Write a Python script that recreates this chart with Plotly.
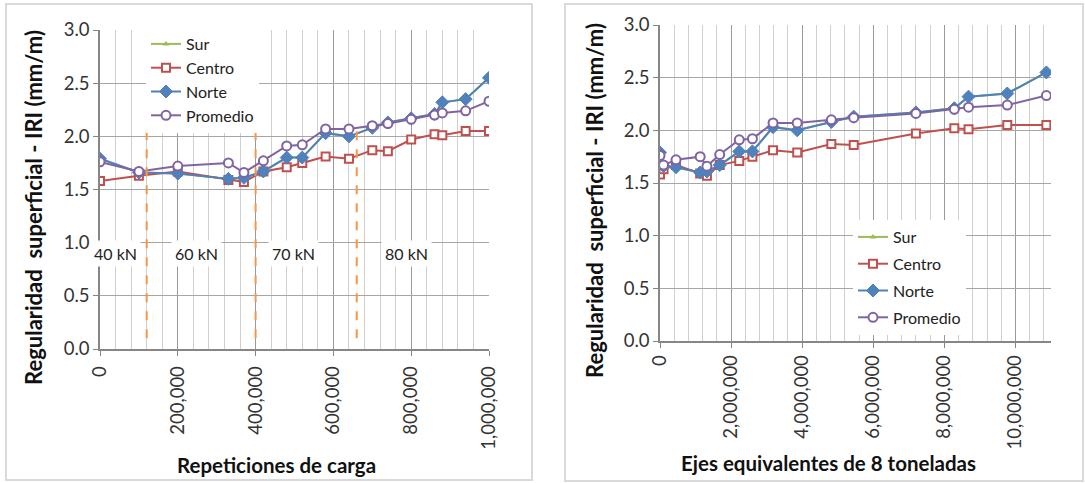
import plotly.graph_objects as go

W, H = 1085, 483

# ---------------- data ----------------
repeticiones = [0, 100000, 200000, 330000, 370000, 420000, 480000, 520000, 580000,
                640000, 700000, 740000, 800000, 860000, 880000, 940000, 1000000]
ejes_eq = [0, 100000, 450000, 1130000, 1320000, 1680000, 2230000, 2600000, 3180000,
           3860000, 4820000, 5450000, 7200000, 8280000, 8680000, 9770000, 10870000]

sur = [1.79, 1.66, 1.65, 1.60, 1.61, 1.67, 1.80, 1.80, 2.03, 2.00, 2.08, 2.13, 2.17, 2.21, 2.32, 2.35, 2.55]
centro = [1.58, 1.63, 1.67, 1.59, 1.57, 1.67, 1.71, 1.75, 1.81, 1.79, 1.87, 1.86, 1.97, 2.02, 2.01, 2.05, 2.05]
norte = [1.79, 1.66, 1.65, 1.60, 1.61, 1.67, 1.80, 1.80, 2.03, 2.00, 2.08, 2.13, 2.17, 2.21, 2.32, 2.35, 2.55]
promedio = [1.76, 1.67, 1.72, 1.75, 1.66, 1.77, 1.91, 1.92, 2.07, 2.07, 2.10, 2.12, 2.16, 2.20, 2.22, 2.24, 2.33]

series_names = ["Sur", "Centro", "Norte", "Promedio"]

load_limits = [120000, 400000, 660000]          # dashed separators (repeticiones)
load_labels = ["40 kN", "60 kN", "70 kN", "80 kN"]
load_label_x = [40000, 247000, 497000, 787000]
load_label_y = 0.9

x_title_left = "Repeticiones de carga"
x_title_right = "Ejes equivalentes de 8 toneladas"
y_title = "Regularidad\u00a0 superficial - IRI (mm/m)"

# ---------------- styles ----------------
FONT = "Lato"
colors = {"Sur": "#9bbb59", "Centro": "#c0504d", "Norte": "#4f81bd", "Promedio": "#8064a2"}
markers = {
    "Sur": dict(symbol="triangle-up", size=6, color="#9bbb59"),
    "Centro": dict(symbol="square", size=8, color="white", line=dict(color="#c0504d", width=2)),
    "Norte": dict(symbol="diamond", size=10, color="#4f81bd", line=dict(color="#4f81bd", width=1)),
    "Promedio": dict(symbol="circle", size=9, color="white", line=dict(color="#8064a2", width=2)),
}
values = {"Sur": sur, "Centro": centro, "Norte": norte, "Promedio": promedio}

fig = go.Figure()

for name in series_names:
    fig.add_trace(go.Scatter(
        x=repeticiones, y=values[name], name=name, mode="lines+markers",
        line=dict(color=colors[name], width=2), marker=markers[name],
        xaxis="x", yaxis="y", legend="legend"))
for name in series_names:
    fig.add_trace(go.Scatter(
        x=ejes_eq, y=values[name], name=name, mode="lines+markers",
        line=dict(color=colors[name], width=2), marker=markers[name],
        xaxis="x2", yaxis="y2", legend="legend2", legendgroup="R" + name))


def px_x(p):
    return p / W


def px_y(p):
    return 1 - p / H


common_y = dict(range=[0, 3.0], dtick=0.5, tickformat=".1f", showgrid=True,
                gridcolor="#a6a6a6", gridwidth=1, showline=True, linecolor="#868686",
                linewidth=1.5, ticks="outside", ticklen=5, tickcolor="#868686",
                tickfont=dict(family=FONT, size=18.5, color="#333333"), zeroline=False,
                automargin=False)
common_x = dict(showgrid=True, gridcolor="#9a9a9a", gridwidth=1, showline=True,
                linecolor="#868686", linewidth=1.5, ticks="outside", ticklen=5,
                tickcolor="#868686", tickangle=-90, tickformat=",d",
                tickfont=dict(family=FONT, size=18.5, color="#333333"), zeroline=False,
                automargin=False)

fig.update_layout(
    width=W, height=H, margin=dict(l=0, r=0, t=0, b=0, autoexpand=False),
    paper_bgcolor="white", plot_bgcolor="white",
    font=dict(family=FONT, color="#222222"),
    xaxis=dict(domain=[px_x(100), px_x(489)], range=[0, 1000000], dtick=200000,
               minor=dict(dtick=40000, showgrid=True, gridcolor="#d0d0d0", gridwidth=1),
               ticklabelstandoff=3, anchor="y", **common_x),
    yaxis=dict(domain=[px_y(349), px_y(30)], anchor="x", **common_y),
    xaxis2=dict(domain=[px_x(660), px_x(1051)], range=[0, 11000000], dtick=2000000,
                minor=dict(dtick=400000, showgrid=True, gridcolor="#d0d0d0", gridwidth=1),
                ticklabelstandoff=0, anchor="y2", **common_x),
    yaxis2=dict(domain=[px_y(341), px_y(25)], anchor="x2", **common_y),
    legend=dict(x=px_x(146), y=px_y(27), xanchor="left", yanchor="top",
                bgcolor="white", font=dict(family=FONT, size=16, color="#222222"),
                itemwidth=30),
    legend2=dict(x=px_x(853), y=px_y(220), xanchor="left", yanchor="top",
                 bgcolor="white", font=dict(family=FONT, size=16, color="#222222"),
                 itemwidth=30, tracegroupgap=3),
    showlegend=True,
)

shapes = []
# panel borders
shapes.append(dict(type="rect", xref="paper", yref="paper", x0=px_x(6), x1=px_x(532),
                   y0=px_y(480), y1=px_y(4), line=dict(color="#d9d9d9", width=2)))
shapes.append(dict(type="rect", xref="paper", yref="paper", x0=px_x(565), x1=px_x(1083),
                   y0=px_y(481), y1=px_y(4), line=dict(color="#d9d9d9", width=2)))
# dashed load separators
for xv in load_limits:
    shapes.append(dict(type="line", xref="x", yref="y", x0=xv, x1=xv, y0=0.1, y1=2.05,
                       line=dict(color="#f79646", width=2, dash="dash")))
fig.update_layout(shapes=shapes)

annotations = []
for lab, xv in zip(load_labels, load_label_x):
    annotations.append(dict(x=xv, y=load_label_y, xref="x", yref="y", text=lab,
                            showarrow=False, bgcolor="white", borderpad=3,
                            xanchor="center", yanchor="middle",
                            font=dict(family=FONT, size=16, color="#222222")))
annotations.append(dict(x=px_x(276), y=px_y(465), xref="paper", yref="paper",
                        text="<b>" + x_title_left + "</b>", showarrow=False,
                        xanchor="center", yanchor="middle",
                        font=dict(family=FONT, size=20.5, color="#111111")))
annotations.append(dict(x=px_x(828), y=px_y(463), xref="paper", yref="paper",
                        text="<b>" + x_title_right + "</b>", showarrow=False,
                        xanchor="center", yanchor="middle",
                        font=dict(family=FONT, size=20.5, color="#111111")))
annotations.append(dict(x=px_x(33), y=px_y(208), xref="paper", yref="paper",
                        text="<b>" + y_title + "</b>", showarrow=False, textangle=-90,
                        xanchor="center", yanchor="middle",
                        font=dict(family=FONT, size=22, color="#111111")))
annotations.append(dict(x=px_x(594), y=px_y(201), xref="paper", yref="paper",
                        text="<b>" + y_title + "</b>", showarrow=False, textangle=-90,
                        xanchor="center", yanchor="middle",
                        font=dict(family=FONT, size=22, color="#111111")))
fig.update_layout(annotations=annotations)

fig.write_html("out.html")
